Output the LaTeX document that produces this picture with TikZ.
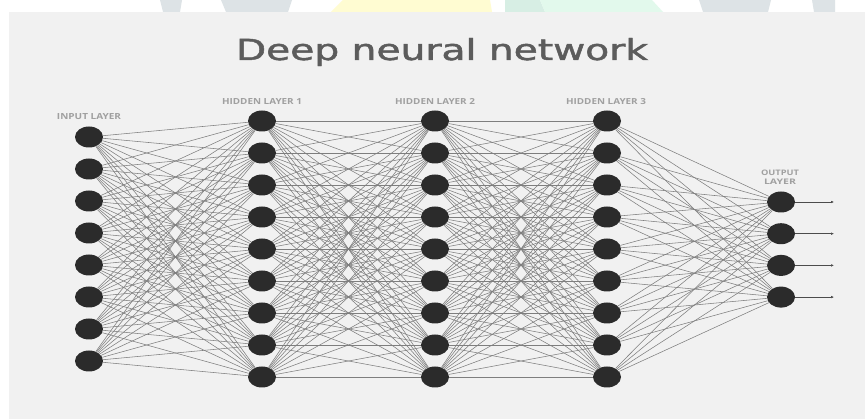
\documentclass[tikz,border=0pt]{standalone}
\usepackage{fontspec}
\setmainfont{Open Sans}
\newfontfamily\titlefont[FakeBold=1.4]{DejaVu Sans}
\usetikzlibrary{shapes.geometric,arrows.meta}
\definecolor{bgcol}{HTML}{F1F1F1}
\definecolor{nodecol}{HTML}{2B2B2B}
\definecolor{linecol}{HTML}{7E7E7E}
\definecolor{lblcol}{HTML}{A0A0A0}
\definecolor{titlecol}{HTML}{5C5C5C}
\definecolor{wmgray}{HTML}{DDE3E6}
\definecolor{wmyellow}{HTML}{FFFCD2}
\definecolor{wmgreen}{HTML}{E2F9EC}
\definecolor{wmteal}{HTML}{D7EEE4}
\begin{document}
\begin{tikzpicture}[x=1pt,y=-1pt,
  neuron/.style={ellipse,fill=nodecol,minimum width=28pt,minimum height=21pt,inner sep=0pt},
  link/.style={draw=linecol,line width=0.55pt},
  outarrow/.style={draw=black!70,line width=0.5pt,-{Latex[length=3pt,width=2.6pt]}},
  lbl/.style={text=lblcol,inner sep=0pt,anchor=base,font=\bfseries},
  wm/.style={draw=none}]
\useasboundingbox (0,0) rectangle (865,419);
\fill[white] (0,0) rectangle (865,419);
% watermark fragments at the top
\fill[wmgray] (160,0) -- (182,0) -- (180,12) -- (163,12) -- cycle;
\fill[wmgray] (221,0) -- (292,0) -- (288,12) -- (226,12) -- cycle;
\fill[wmyellow] (343,0) -- (490,0) -- (492,12) -- (331,12) -- cycle;
\fill[wmteal] (505,0) -- (540,0) -- (545,12) -- (505,12) -- cycle;
\fill[wmgreen] (540,0) -- (652,0) -- (663,12) -- (545,12) -- cycle;
\fill[wmgray] (699,0) -- (771,0) -- (768,12) -- (703,12) -- cycle;
\fill[wmgray] (812,0) -- (835,0) -- (835,12) -- (814,12) -- cycle;
% main panel
\fill[bgcol] (9,12) rectangle (865,419);

% title and labels
\node[lbl,text=titlecol,font=\titlefont] (title) at (442,60) {\resizebox{412pt}{22pt}{\fontsize{30}{30}\selectfont Deep neural network}};
\node[lbl] (linput) at (89,120) {\resizebox{64pt}{6pt}{INPUT LAYER}};
\node[lbl] (lh1) at (262,105) {\resizebox{80pt}{6pt}{HIDDEN LAYER 1}};
\node[lbl] (lh2) at (435,105) {\resizebox{80pt}{6pt}{HIDDEN LAYER 2}};
\node[lbl] (lh3) at (606,105) {\resizebox{80pt}{6pt}{HIDDEN LAYER 3}};
\node[lbl] (lout1) at (780,176) {\resizebox{38pt}{5.5pt}{OUTPUT}};
\node[lbl] (lout2) at (780,185) {\resizebox{32pt}{5.5pt}{LAYER}};

% neurons
\foreach \i in {1,...,8} \node[neuron] (I\i) at (89,{137+32*(\i-1)}) {};
\foreach \i in {1,...,9} {
  \node[neuron] (A\i) at (262,{121+32*(\i-1)}) {};
  \node[neuron] (B\i) at (435,{121+32*(\i-1)}) {};
  \node[neuron] (C\i) at (607,{121+32*(\i-1)}) {};
}
\foreach \i in {1,...,4} {
  \node[neuron] (O\i) at (781,{202+31.7*(\i-1)}) {};
  \coordinate (T\i) at (834,{202+31.7*(\i-1)});
}

% connections
\foreach \i in {1,...,8} \foreach \j in {1,...,9} \draw[link] (I\i) -- (A\j);
\foreach \i in {1,...,9} \foreach \j in {1,...,9} {
  \draw[link] (A\i) -- (B\j);
  \draw[link] (B\i) -- (C\j);
}
\foreach \i in {1,...,9} \foreach \j in {1,...,4} \draw[link] (C\i) -- (O\j);
\foreach \i in {1,...,4} \draw[outarrow] (O\i) -- (T\i);
\end{tikzpicture}
\end{document}
